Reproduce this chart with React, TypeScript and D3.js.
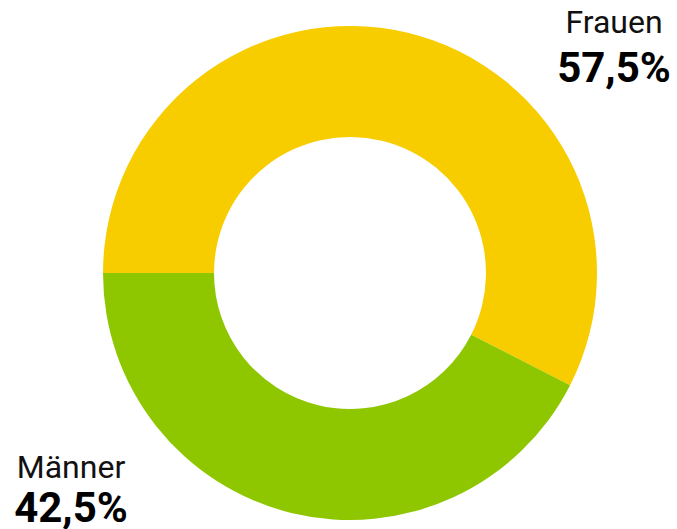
import React from "react";
import * as d3 from "d3";

const categories = ["Frauen", "Männer"];
const shares = [57.5, 42.5];
const valueLabels = ["57,5%", "42,5%"];
const colors = ["#F7CD00", "#8EC600"];

const W = 677;
const H = 529;
const cx = 350;
const cy = 273;
const outerR = 247;
const innerR = 136;

export default function App() {
  const pie = d3
    .pie<number>()
    .sort(null)
    .value((d) => d)
    .startAngle(-Math.PI / 2)
    .endAngle((3 * Math.PI) / 2);
  const arcs = pie(shares);
  const arc = d3.arc<d3.PieArcDatum<number>>().innerRadius(innerR).outerRadius(outerR);

  const labelPos = [
    { x: 614, y1: 33, y2: 82 },
    { x: 71, y1: 478, y2: 522 },
  ];

  return (
    <svg
      width={W}
      height={H}
      style={{ position: "absolute", left: 0, top: 0, display: "block" }}
      fontFamily="Roboto, 'Noto Sans', sans-serif"
    >
      <rect width={W} height={H} fill="#ffffff" />
      <g transform={`translate(${cx},${cy})`}>
        {arcs.map((a, i) => (
          <path key={categories[i]} d={arc(a) || ""} fill={colors[i]} />
        ))}
      </g>
      {categories.map((c, i) => (
        <g key={c}>
          <text x={labelPos[i].x} y={labelPos[i].y1} textAnchor="middle" fontSize={32} fill="#111">
            {c}
          </text>
          <text
            x={labelPos[i].x}
            y={labelPos[i].y2}
            textAnchor="middle"
            fontSize={42}
            fontWeight="bold"
            fill="#000"
          >
            {valueLabels[i]}
          </text>
        </g>
      ))}
    </svg>
  );
}
